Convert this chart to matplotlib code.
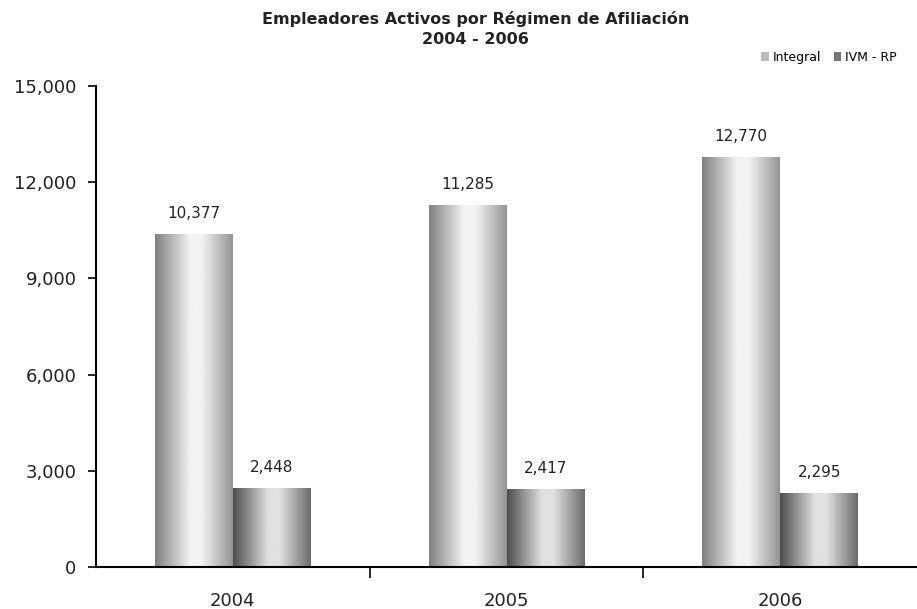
import numpy as np
import matplotlib.pyplot as plt
from matplotlib.patches import Patch

anios = ['2004', '2005', '2006']
integral = [10377, 11285, 12770]
ivm_rp = [2448, 2417, 2295]
yticks = [0, 3000, 6000, 9000, 12000, 15000]

plt.rcParams['font.family'] = ['DejaVu Sans']

fig = plt.figure(figsize=(9.17, 6.09), dpi=100)
ax = fig.add_axes([0.1047, 0.069, 0.8953, 0.790])

x = np.arange(len(anios))
w = 0.285


def degradado(bars, oscuro, claro, derecho):
    # sombreado horizontal tipo cilindro
    t = np.linspace(0, 1, 200)
    perfil = np.interp(t, [0, 0.45, 0.6, 1], [oscuro, claro, claro, derecho])
    img = np.tile(perfil, (2, 1))
    for b in bars:
        x0, y0 = b.get_x(), b.get_y()
        x1, y1 = x0 + b.get_width(), y0 + b.get_height()
        im = ax.imshow(img, cmap='gray', vmin=0, vmax=1, aspect='auto',
                       extent=[x0, x1, y0, y1], zorder=2, interpolation='bilinear')
        im.set_clip_path(b)


b1 = ax.bar(x - w / 2, integral, w, color='none', edgecolor='none', zorder=2)
b2 = ax.bar(x + w / 2, ivm_rp, w, color='none', edgecolor='none', zorder=2)
degradado(b1, 0.50, 0.95, 0.58)
degradado(b2, 0.30, 0.88, 0.42)

for bars, vals in [(b1, integral), (b2, ivm_rp)]:
    for b, v in zip(bars, vals):
        ax.text(b.get_x() + b.get_width() / 2, v + 420, f'{v:,}',
                ha='center', va='bottom', fontsize=11, color='#222222')

ax.set_xlim(-0.5, 2.5)
ax.set_ylim(0, 15000)
ax.set_yticks(yticks)
ax.set_yticklabels([f'{v:,}' for v in yticks], fontsize=13, color='#222222')
ax.set_xticks([0.5, 1.5])
ax.set_xticklabels([])
ax.set_xticks(x, minor=True)
ax.set_xticklabels(anios, minor=True, fontsize=13, color='#222222')
ax.tick_params(axis='x', which='major', length=8, width=1.2, direction='out')
ax.tick_params(axis='x', which='minor', length=0, pad=18)
ax.tick_params(axis='y', length=6, width=1.2, direction='out', pad=8)

for s in ['top', 'right']:
    ax.spines[s].set_visible(False)
ax.spines['left'].set_linewidth(1.5)
ax.spines['bottom'].set_linewidth(1.5)

fig.text(0.519, 0.982,
         'Empleadores Activos por Régimen de Afiliación\n2004 - 2006',
         ha='center', va='top', fontsize=11.5, fontweight='bold',
         color='#222222', linespacing=1.4)

handles = [Patch(facecolor='#bbbbbb', edgecolor='none'),
           Patch(facecolor='#777777', edgecolor='none')]
fig.legend(handles, ['Integral', 'IVM - RP'], loc='upper right',
           bbox_to_anchor=(0.99, 0.935), ncol=2, frameon=False, fontsize=9,
           handlelength=0.6, handleheight=0.8, handletextpad=0.3,
           columnspacing=1.0)

plt.savefig('out.png', dpi=100)
plt.close()
